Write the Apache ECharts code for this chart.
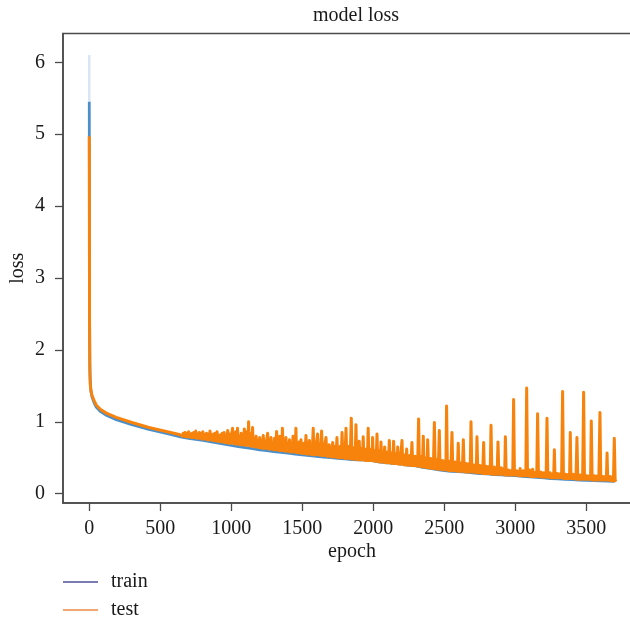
<!DOCTYPE html>
<html>
<head>
<meta charset="utf-8">
<script src="https://cdn.jsdelivr.net/npm/echarts@6/dist/echarts.min.js"></script>
<style>html,body{margin:0;padding:0;background:#fff}#c{width:630px;height:620px}</style>
</head>
<body>
<div id="c"></div>
<script>
const titleText = 'model loss';
const xName = 'epoch';
const yName = 'loss';
const seriesNames = ['train', 'test'];
const xTicks = [0, 500, 1000, 1500, 2000, 2500, 3000, 3500];
const yTicks = [0, 1, 2, 3, 4, 5, 6];

// faint light segment above the first train value
const trainShade = [[0, 6.1], [0, 5.45]];

const trainLoss = [[0,5.45],[2,2.6],[4,1.8],[7,1.55],[12,1.42],[20,1.34],[35,1.26],[50,1.2],[80,1.14],[120,1.09],[190,1.03],[300,0.96],[420,0.895],[550,0.835],[600,0.81],[650,0.785],[700,0.77],[750,0.755],[800,0.74],[850,0.725],[900,0.705],[950,0.69],[1000,0.67],[1050,0.655],[1100,0.64],[1150,0.625],[1200,0.61],[1250,0.6],[1300,0.585],[1350,0.575],[1400,0.565],[1450,0.55],[1500,0.54],[1550,0.53],[1600,0.52],[1650,0.51],[1700,0.5],[1750,0.49],[1800,0.485],[1850,0.475],[1900,0.47],[1950,0.465],[2000,0.455],[2050,0.44],[2100,0.43],[2150,0.42],[2200,0.41],[2250,0.395],[2300,0.385],[2350,0.365],[2400,0.35],[2450,0.335],[2500,0.32],[2550,0.31],[2600,0.305],[2650,0.3],[2700,0.29],[2750,0.28],[2800,0.275],[2850,0.265],[2900,0.26],[2950,0.255],[3000,0.25],[3050,0.24],[3100,0.235],[3150,0.228],[3200,0.22],[3250,0.21],[3300,0.205],[3350,0.2],[3400,0.195],[3450,0.19],[3500,0.185],[3550,0.18],[3600,0.178],[3650,0.173],[3700,0.17]];

const testLoss = [[0,4.97],[2,2.3],[4,1.7],[7,1.52],[12,1.43],[20,1.36],[35,1.29],[50,1.23],[80,1.17],[120,1.12],[190,1.06],[300,0.99],[420,0.92],[550,0.86],[640,0.82],
[650,0.82],[656,0.80],[662,0.84],[668,0.80],[675,0.85],[681,0.79],[687,0.84],[694,0.79],
[700,0.86],[706,0.79],[712,0.83],[718,0.78],[725,0.84],[731,0.78],[737,0.85],[744,0.78],[750,0.87],[756,0.77],[762,0.83],[768,0.77],[775,0.85],[781,0.77],[787,0.84],[794,0.76],
[800,0.86],[806,0.76],[812,0.82],[818,0.76],[825,0.84],[831,0.75],[837,0.83],[844,0.75],[850,0.87],[856,0.75],[862,0.82],[868,0.74],[875,0.83],[881,0.74],[887,0.84],[894,0.73],
[900,0.86],[906,0.73],[912,0.81],[918,0.73],[925,0.82],[931,0.72],[937,0.84],[944,0.72],[950,0.85],[956,0.71],[962,0.80],[968,0.71],[975,0.88],[981,0.70],[987,0.83],[994,0.70],
[1000,0.80],[1009,0.91],[1015,0.70],[1020,0.82],[1026,0.69],[1032,0.86],[1038,0.69],[1044,0.91],[1050,0.69],[1055,0.80],[1062,0.68],[1070,0.84],[1075,0.68],[1080,0.79],[1086,0.68],[1092,0.90],[1100,0.67],
[1105,0.80],[1110,0.86],[1116,0.67],[1122,1.00],[1127,0.67],[1132,0.80],[1137,0.66],[1140,0.84],[1145,0.66],[1150,0.92],[1155,0.66],[1160,0.76],[1167,0.65],[1175,0.80],[1181,0.65],[1187,0.74],[1194,0.64],
[1200,0.78],[1206,0.64],[1212,0.74],[1218,0.63],[1225,0.81],[1231,0.63],[1237,0.73],[1244,0.63],[1250,0.76],[1256,0.84],[1262,0.62],[1268,0.72],[1274,0.62],[1280,0.78],[1286,0.62],[1292,0.70],
[1299,0.61],[1305,0.77],[1312,0.61],[1319,0.865],[1325,0.61],[1330,0.72],[1336,0.60],[1342,0.80],[1347,0.60],[1352,0.70],[1356,0.60],[1360,0.91],[1366,0.60],[1372,0.72],[1378,0.59],[1385,0.78],[1390,0.59],[1395,0.70],
[1402,0.59],[1410,0.75],[1416,0.58],[1422,0.68],[1428,0.58],[1435,0.80],[1440,0.58],[1446,0.70],[1450,0.58],[1455,0.91],[1460,0.57],[1465,0.68],[1471,0.57],[1478,0.72],[1484,0.57],[1491,0.75],[1496,0.56],
[1500,0.66],[1506,0.56],[1512,0.70],[1519,0.56],[1526,0.81],[1531,0.55],[1537,0.66],[1543,0.55],[1550,0.74],[1556,0.55],[1562,0.65],[1569,0.54],[1577,0.91],[1582,0.54],[1588,0.66],[1594,0.54],
[1600,0.72],[1608,0.83],[1614,0.54],[1620,0.64],[1628,0.53],[1636,0.87],[1642,0.53],[1648,0.64],[1654,0.53],[1660,0.70],[1667,0.78],[1673,0.52],[1680,0.63],[1685,0.52],[1690,0.68],[1695,0.52],
[1700,0.62],[1707,0.51],[1714,0.71],[1720,0.51],[1725,0.62],[1729,0.51],[1733,0.66],[1738,0.51],[1744,0.78],[1750,0.50],[1755,0.60],[1761,0.50],[1768,0.66],[1774,0.50],[1780,0.85],[1786,0.50],[1792,0.62],[1800,0.49],
[1808,0.91],[1813,0.49],[1818,0.60],[1824,0.49],[1830,0.66],[1837,0.49],[1845,1.05],[1850,0.48],[1855,0.60],[1860,0.48],[1866,0.64],[1872,0.48],[1878,0.96],[1883,0.48],[1888,0.58],[1894,0.47],[1901,0.73],[1906,0.47],
[1912,0.58],[1916,0.47],[1920,0.63],[1924,0.47],[1929,0.79],[1934,0.47],[1940,0.58],[1946,0.46],[1952,0.62],[1958,0.46],[1964,0.91],[1969,0.46],[1975,0.57],[1981,0.46],[1987,0.62],[1991,0.46],
[1995,0.78],[2000,0.46],[2005,0.56],[2010,0.45],[2015,0.60],[2020,0.45],[2026,0.83],[2031,0.45],[2037,0.55],[2041,0.44],[2046,0.60],[2050,0.44],[2054,0.72],[2060,0.44],[2066,0.54],[2073,0.44],[2080,0.65],[2085,0.43],[2090,0.53],[2095,0.43],
[2100,0.58],[2106,0.43],[2113,0.74],[2118,0.43],[2123,0.52],[2128,0.42],[2133,0.57],[2138,0.42],[2143,0.73],[2149,0.42],[2155,0.51],[2160,0.42],[2164,0.56],[2168,0.42],[2172,0.65],[2178,0.41],[2185,0.50],[2190,0.41],[2195,0.56],
[2202,0.74],[2207,0.41],[2213,0.50],[2218,0.40],[2224,0.54],[2230,0.40],[2235,0.62],[2241,0.40],[2247,0.49],[2252,0.40],[2258,0.53],[2265,0.39],[2272,0.71],[2278,0.39],[2284,0.48],[2290,0.39],[2295,0.52],[2300,0.39],
[2305,0.47],[2312,0.38],[2319,1.04],[2325,0.38],[2330,0.47],[2335,0.38],[2340,0.52],[2346,0.37],[2352,0.80],[2357,0.37],[2362,0.46],[2367,0.37],[2372,0.50],[2378,0.36],[2383,0.75],[2389,0.36],[2395,0.45],
[2400,0.36],[2405,0.49],[2410,0.35],[2416,0.44],[2423,0.35],[2430,0.99],[2436,0.35],[2441,0.43],[2447,0.34],[2452,0.48],[2458,0.34],[2465,0.88],[2470,0.34],[2476,0.42],[2482,0.34],[2488,0.46],[2494,0.33],
[2500,0.41],[2506,0.45],[2511,0.33],[2516,1.22],[2522,0.33],[2527,0.41],[2532,0.32],[2538,0.45],[2546,0.32],[2554,0.85],[2560,0.32],[2565,0.40],[2570,0.32],[2576,0.44],[2582,0.32],[2587,0.39],[2592,0.31],[2598,0.70],[2604,0.31],
[2609,0.39],[2614,0.31],[2620,0.43],[2627,0.31],[2634,0.75],[2640,0.31],[2645,0.38],[2650,0.30],[2656,0.42],[2662,0.30],[2667,0.37],[2672,0.30],[2676,0.42],[2682,0.30],[2688,1.00],[2694,0.30],[2699,0.37],
[2704,0.30],[2710,0.40],[2715,0.30],[2720,0.36],[2725,0.29],[2730,0.79],[2736,0.29],[2741,0.36],[2746,0.29],[2752,0.39],[2758,0.29],[2764,0.35],[2770,0.28],[2777,0.71],[2782,0.28],[2788,0.35],[2793,0.28],[2798,0.38],
[2803,0.28],[2808,0.34],[2813,0.28],[2818,0.38],[2823,0.28],[2829,0.95],[2835,0.27],[2840,0.34],[2846,0.27],[2852,0.37],[2859,0.27],[2866,0.33],[2872,0.27],[2878,0.72],[2884,0.27],[2889,0.33],[2894,0.27],[2900,0.36],
[2906,0.27],[2911,0.32],[2916,0.27],[2920,0.35],[2925,0.26],[2930,0.79],[2936,0.26],[2941,0.32],[2946,0.26],[2952,0.33],[2958,0.26],[2964,0.31],[2970,0.26],[2976,0.33],[2982,0.26],[2988,1.31],[2994,0.26],[2999,0.31],
[3004,0.26],[3010,0.32],[3016,0.26],[3022,0.30],[3028,0.25],[3034,0.35],[3040,0.25],[3045,0.31],[3050,0.25],[3056,0.32],[3062,0.25],[3068,0.30],[3074,0.25],[3080,1.47],[3086,0.25],[3091,0.30],[3096,0.25],[3100,0.33],
[3106,0.24],[3111,0.30],[3116,0.24],[3122,0.34],[3128,0.24],[3133,0.29],[3139,0.24],[3145,0.30],[3151,0.24],[3157,1.11],[3163,0.24],[3168,0.29],[3174,0.24],[3180,0.30],[3186,0.23],[3192,0.28],[3196,0.23],[3200,0.29],
[3206,0.23],[3211,0.28],[3217,0.23],[3223,1.05],[3229,0.23],[3234,0.28],[3240,0.23],[3245,0.29],[3250,0.22],[3256,0.27],[3261,0.22],[3266,0.28],[3270,0.22],[3275,0.61],[3280,0.22],[3285,0.27],[3290,0.22],[3296,0.28],
[3302,0.22],[3308,0.27],[3313,0.22],[3318,0.28],[3326,0.22],[3333,1.42],[3339,0.21],[3344,0.26],[3350,0.21],[3355,0.27],[3360,0.21],[3366,0.26],[3371,0.21],[3376,0.27],[3382,0.21],[3387,0.85],[3392,0.21],[3397,0.26],
[3402,0.21],[3408,0.27],[3414,0.21],[3420,0.25],[3427,0.20],[3434,0.78],[3440,0.20],[3445,0.25],[3450,0.20],[3456,0.26],[3462,0.20],[3468,0.25],[3474,0.20],[3481,1.41],[3487,0.20],[3492,0.25],[3497,0.20],
[3503,0.25],[3508,0.20],[3514,0.24],[3519,0.20],[3524,0.25],[3530,0.20],[3535,1.01],[3541,0.19],[3546,0.24],[3551,0.19],[3557,0.25],[3562,0.19],[3568,0.24],[3574,0.19],[3580,0.25],[3588,0.19],[3596,1.13],[3602,0.19],[3607,0.24],
[3612,0.19],[3617,0.24],[3622,0.19],[3627,0.23],[3632,0.19],[3636,0.24],[3641,0.19],[3646,0.565],[3651,0.19],[3656,0.23],[3661,0.19],[3666,0.24],[3671,0.18],[3676,0.23],[3681,0.18],[3686,0.23],[3691,0.18],[3697,0.77],[3703,0.18],[3708,0.20]];

const FONT = 'Liberation Serif';
const TXT = '#1a1a1a';
const AX = '#4a4a4a';

const chart = echarts.init(document.getElementById('c'), null, {renderer: 'canvas'});
chart.setOption({
  animation: false,
  backgroundColor: '#fff',
  title: {
    text: titleText, left: 308, top: 1,
    textStyle: {fontFamily: FONT, fontSize: 20, fontWeight: 'normal', color: TXT}
  },
  grid: {left: 63, top: 33.5, width: 578, height: 469.5, show: true, borderColor: AX, borderWidth: 1.5,
         containLabel: false, outerBoundsMode: 'none'},
  legend: {
    orient: 'vertical', left: 63, top: 572, height: 80, padding: 0,
    icon: 'rect', itemWidth: 35, itemHeight: 1.5, itemGap: 8,
    textStyle: {fontFamily: FONT, fontSize: 20, lineHeight: 20, color: TXT, padding: [0, 0, 0, 8]},
    data: [
      {name: seriesNames[0], itemStyle: {color: '#4e4f96'}},
      {name: seriesNames[1], itemStyle: {color: '#ec8a45'}}
    ]
  },
  xAxis: {
    type: 'value', min: -185, max: 3885,
    name: xName, nameLocation: 'middle', nameGap: 39, nameMoveOverlap: false,
    nameTextStyle: {fontFamily: FONT, fontSize: 20, color: TXT},
    axisLine: {show: true, onZero: false, lineStyle: {color: AX, width: 1.5}},
    axisTick: {show: true, inside: false, length: 8, lineStyle: {color: AX, width: 1.3}, customValues: xTicks},
    axisLabel: {fontFamily: FONT, fontSize: 20, color: TXT, margin: 16, customValues: xTicks, formatter: v => String(v)},
    splitLine: {show: false}
  },
  yAxis: {
    type: 'value', min: -0.13, max: 6.4,
    name: yName, nameLocation: 'middle', nameGap: 35, nameRotate: 90, nameMoveOverlap: false,
    nameTextStyle: {fontFamily: FONT, fontSize: 20, color: TXT},
    axisLine: {show: true, onZero: false, lineStyle: {color: AX, width: 1.5}},
    axisTick: {show: true, inside: false, length: 8, lineStyle: {color: AX, width: 1.3}, customValues: yTicks},
    axisLabel: {fontFamily: FONT, fontSize: 20, color: TXT, margin: 18, customValues: yTicks, formatter: v => String(v)},
    splitLine: {show: false}
  },
  series: [
    {name: 'shade', type: 'line', data: trainShade, symbol: 'none', silent: true,
     lineStyle: {color: '#c8dcef', width: 2.5, opacity: 0.7}},
    {name: seriesNames[0], type: 'line', data: trainLoss, symbol: 'none', color: '#4e4f96',
     lineStyle: {color: '#4a8fca', width: 2.8}},
    {name: seriesNames[1], type: 'line', data: testLoss, symbol: 'none', color: '#ec8a45',
     lineStyle: {color: '#f7820c', width: 3, join: 'round'}}
  ]
});
</script>
</body>
</html>
